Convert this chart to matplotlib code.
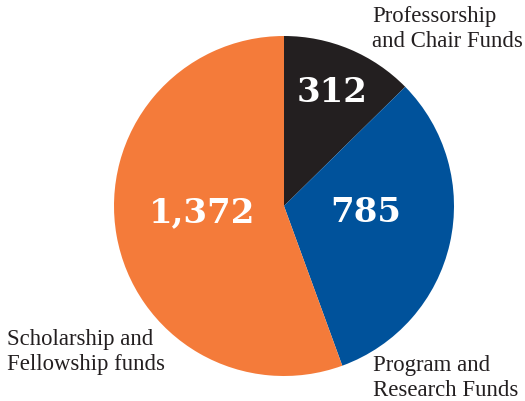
import matplotlib
matplotlib.use("Agg")
import matplotlib.pyplot as plt

categories = ["Professorship\nand Chair Funds", "Program and\nResearch Funds", "Scholarship and\nFellowship funds"]
values = [312, 785, 1372]
value_labels = ["312", "785", "1,372"]

colors = ["#231f20", "#00529b", "#f47b3a"]
value_pos = [(0.28, 0.67), (0.48, -0.04), (-0.48, -0.04)]
cat_pos = [(372, 47), (373, 396), (7, 370)]  # pixel (left, last baseline)

W, H = 525, 401
fig = plt.figure(figsize=(W / 100, H / 100), dpi=100)
ax = fig.add_axes([114 / W, (H - 376) / H, 340 / W, 340 / H])
ax.pie(values, colors=colors, startangle=90, counterclock=False, radius=1,
       wedgeprops=dict(linewidth=0))
ax.set_xlim(-1, 1)
ax.set_ylim(-1, 1)
ax.set_aspect("equal")
ax.axis("off")

for lbl, (x, y) in zip(value_labels, value_pos):
    ax.text(x, y, lbl, ha="center", va="center", color="white",
            fontsize=24.5, fontweight="bold", family="DejaVu Serif")

for cat, (px, py) in zip(categories, cat_pos):
    fig.text(px / W, 1 - py / H, cat, ha="left", va="baseline", color="#231f20",
             fontsize=16.4, family="Liberation Serif", linespacing=1.25)

fig.savefig("out.png", dpi=100, facecolor="white")
